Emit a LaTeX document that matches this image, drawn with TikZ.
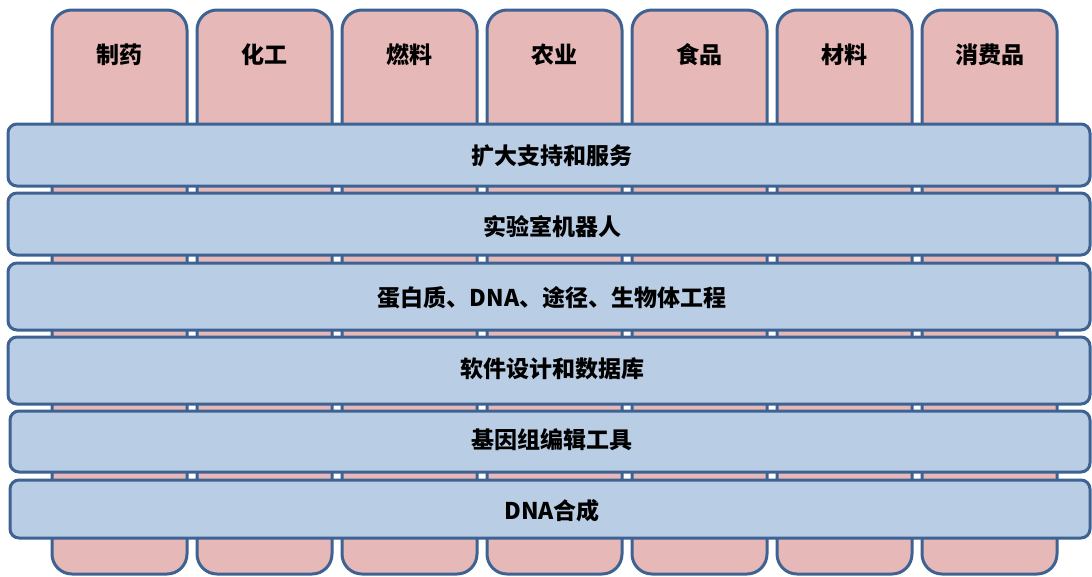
\documentclass[tikz,border=0pt]{standalone}
\usepackage{fontspec}
\newfontfamily\cjk{Noto Sans CJK SC}
\definecolor{pinkfill}{HTML}{E6B8B7}
\definecolor{bluefill}{HTML}{B9CDE5}
\definecolor{edge}{HTML}{3E6393}
\tikzset{
  col/.style={draw=edge, fill=pinkfill, line width=3pt, rounded corners=20pt,
    minimum width=135pt, minimum height=564pt, inner sep=0pt},
  bar/.style={draw=edge, fill=bluefill, line width=3pt, rounded corners=9pt,
    minimum width=1082pt, inner sep=0pt},
  lbl/.style={font=\cjk\bfseries\fontsize{23pt}{27pt}\selectfont, inner sep=0pt}
}
\begin{document}
\begin{tikzpicture}[x=1pt,y=-1pt]
\useasboundingbox (0,0) rectangle (1092,576);
\foreach \i/\t in {0/制药,1/化工,2/燃料,3/农业,4/食品,5/材料,6/消费品}{
  \node[col] (c\i) at ({119.5+145*\i},292) {};
  \node[lbl] (t\i) at ({119.5+145*\i},55) {\t};
}
\node[bar, minimum height=62pt] (b1) at (549,155) {};
\node[bar, minimum height=62pt] (b2) at (549,224) {};
\node[bar, minimum height=67pt] (b3) at (549,296.5) {};
\node[bar, minimum height=67pt] (b4) at (549,370.5) {};
\node[bar, minimum height=61pt, minimum width=1080pt] (b5) at (550,441.5) {};
\node[bar, minimum height=58pt, minimum width=1080pt] (b6) at (550,509) {};
\node[lbl] (l1) at (552,156) {扩大支持和服务};
\node[lbl] (l2) at (552,227) {实验室机器人};
\node[lbl] (l3) at (552,298) {蛋白质、DNA、途径、生物体工程};
\node[lbl] (l4) at (552,369) {软件设计和数据库};
\node[lbl] (l5) at (552,440) {基因组编辑工具};
\node[lbl] (l6) at (552,511) {DNA合成};
\end{tikzpicture}
\end{document}
